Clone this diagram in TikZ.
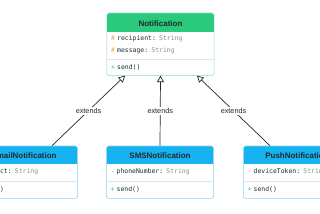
\documentclass[tikz,border=0pt]{standalone}
\usepackage{fontspec}
\setmainfont{Liberation Sans}
\setmonofont{DejaVu Sans Mono}
\usetikzlibrary{arrows.meta,positioning,fit}
\definecolor{headgreen}{HTML}{2BC97C}
\definecolor{headblue}{HTML}{16B3F0}
\definecolor{rimgreen}{HTML}{86DDB0}
\definecolor{rimblue}{HTML}{8AD0EE}
\definecolor{rule}{HTML}{E3E6E8}
\definecolor{ink}{HTML}{1E2A30}
\definecolor{typ}{HTML}{8A8F94}
\definecolor{prot}{HTML}{F0A24E}
\definecolor{priv}{HTML}{F07A7A}
\definecolor{pub}{HTML}{2CC07A}
\newcommand{\member}[4]{\textcolor{#1}{#2} \textcolor{ink}{#3:} \textcolor{typ}{#4}}
\newcommand{\op}[2]{\textcolor{#1}{#2} \textcolor{ink}{send()}}

\begin{document}
\begin{tikzpicture}[x=0.03cm,y=-0.03cm,node distance=0pt,
 head/.style={minimum width=3.2cm,minimum height=0.51cm+2pt,inner sep=0,
 rounded corners=1.5pt,text=ink,font=\fontsize{6.8}{8}\selectfont\bfseries},
 attrs/.style={fill=white,text width=2.96cm,inner xsep=0.12cm,inner ysep=0,
 align=left,minimum height=0.51cm,font=\fontsize{5.5}{10.2}\selectfont\ttfamily},
 ops/.style={attrs,minimum height=0.51cm},
 classbox/.style={draw,inner sep=0,rounded corners=1.5pt,line width=0.5pt},
 divider/.style={draw=rule,line width=0.5pt},
 ext/.style={draw=ink,line width=0.6pt,-{Triangle[open,length=5.5pt,width=6pt]}},
 lbl/.style={fill=white,inner sep=1pt,text=ink,font=\fontsize{6.2}{7}\selectfont}]
\useasboundingbox (0,0) rectangle (320,213);
% base class
\node[head,fill=headgreen,anchor=north,minimum height=0.54cm+2pt] (nh) at (160.5,13) {Notification};
\node[attrs,below=-2pt of nh,minimum height=0.81cm] (na)
 {\member{prot}{\#}{recipient}{String}\\ \member{prot}{\#}{message}{String}};
\node[ops,below=of na,minimum height=0.48cm] (no) {\op{pub}{+}};
\node[classbox,draw=rimgreen,fit=(nh)(na)(no)] (n) {};
\draw[divider] (na.south west) -- (na.south east);
% subclasses
\node[head,fill=headblue,anchor=north] (eh) at (24,146) {EmailNotification};
\node[attrs,below=-2pt of eh] (ea) {\member{priv}{-}{subject}{String}};
\node[ops,below=of ea] (eo) {\op{pub}{+}};
\node[classbox,draw=rimblue,fit=(eh)(ea)(eo)] (e) {};
\draw[divider] (ea.south west) -- (ea.south east);

\node[head,fill=headblue,anchor=north] (sh) at (160,146) {SMSNotification};
\node[attrs,below=-2pt of sh] (sa) {\member{priv}{-}{phoneNumber}{String}};
\node[ops,below=of sa] (so) {\op{pub}{+}};
\node[classbox,draw=rimblue,fit=(sh)(sa)(so)] (s) {};
\draw[divider] (sa.south west) -- (sa.south east);

\node[head,fill=headblue,anchor=north] (ph) at (297,146) {PushNotification};
\node[attrs,below=-2pt of ph] (pa) {\member{priv}{-}{deviceToken}{String}};
\node[ops,below=of pa] (po) {\op{pub}{+}};
\node[classbox,draw=rimblue,fit=(ph)(pa)(po)] (p) {};
\draw[divider] (pa.south west) -- (pa.south east);
% inheritance
\foreach \src/\dx/\tx in {e/28/-35.5,s/0/0,p/-27/36.5}
 \draw[ext] ([xshift=\dx*0.03cm]\src.north) -- node[lbl]{extends} ([xshift=\tx*0.03cm]n.south);
\end{tikzpicture}
\end{document}
